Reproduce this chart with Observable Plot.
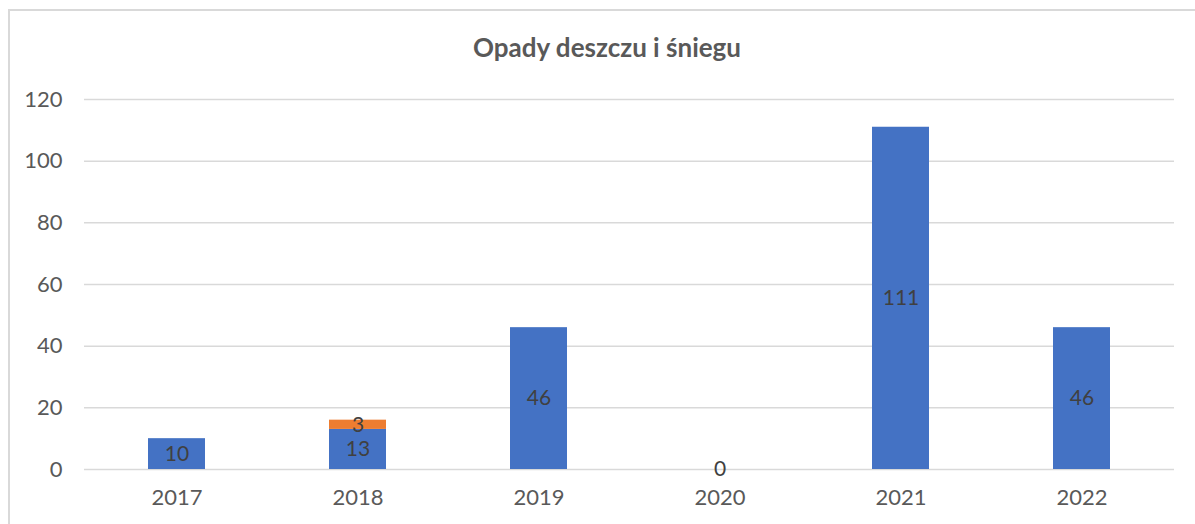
<!DOCTYPE html>
<html><head><meta charset="utf-8">
<script src="https://cdn.jsdelivr.net/npm/d3@7"></script>
<script src="https://cdn.jsdelivr.net/npm/@observablehq/plot@0.6"></script>
<style>
body{margin:0;background:#fff;overflow:hidden;font-family:Lato,"Open Sans",sans-serif;}
#frame{position:absolute;left:8px;top:9px;width:1200px;height:600px;border:2px solid #d9d9d9;box-sizing:border-box;}
#title{position:absolute;left:0;top:31px;width:1214px;text-align:center;font-weight:bold;font-size:26px;color:#595959;}
#chart{position:absolute;left:0;top:0;}
</style></head>
<body>
<div id="frame"></div>
<div id="chart"></div>
<div id="title">Opady deszczu i śniegu</div>
<script>
const years = ["2017","2018","2019","2020","2021","2022"];
const rain = [10, 13, 46, 0, 111, 46];
const snow = [null, 3, null, null, null, null];
const yTicks = [0, 20, 40, 60, 80, 100, 120];

const data = [];
years.forEach((y, i) => data.push({year: y, series: "deszcz", value: rain[i]}));
years.forEach((y, i) => { if (snow[i] != null) data.push({year: y, series: "śnieg", value: snow[i]}); });

const plot = Plot.plot({
  width: 1195, height: 524,
  marginTop: 99, marginBottom: 55, marginLeft: 84, marginRight: 21,
  style: {fontFamily: "Lato, 'Open Sans', sans-serif", fontSize: "22px", color: "#595959", background: "transparent"},
  x: {domain: years, label: null, padding: 0, tickSize: 0, tickPadding: 20},
  y: {domain: [0, 120], ticks: yTicks, label: null, tickSize: 0, tickPadding: 22, grid: false},
  color: {domain: ["deszcz", "śnieg"], range: ["#4472C4", "#ED7D31"]},
  marks: [
    Plot.ruleY(yTicks, {stroke: "#d9d9d9", strokeWidth: 1.5}),
    Plot.barY(data, Plot.stackY({x: "year", y: "value", z: "series", fill: "series", insetLeft: 62, insetRight: 62})),
    Plot.text(data, Plot.stackY({x: "year", y: "value", z: "series", text: d => String(d.value), fill: "#404040", fontSize: 21}))
  ]
});
document.getElementById("chart").appendChild(plot);
</script>
</body></html>
